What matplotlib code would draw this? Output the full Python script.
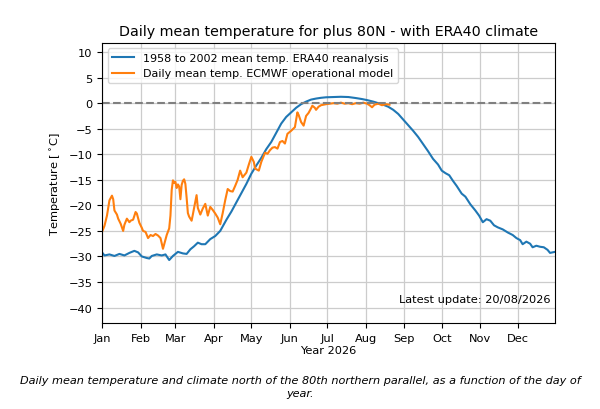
"""
Daily mean temperature north of 80N, with the ERA40 climate curve.
"""

import matplotlib
matplotlib.use("Agg")
import matplotlib.pyplot as plt


# ERA40 climate, 1958-2002 mean (day of year, degC)
CLIMATE_DAYS = [
    0, 2, 6, 10, 14, 18, 22, 26, 29, 32, 36, 38, 40, 44, 48, 51, 54, 57, 61,
    65, 68, 71, 74, 77, 80, 83, 87, 91, 95, 100, 104, 108, 112, 116, 120, 124,
    128, 132, 136, 140, 144, 148, 152, 156, 160, 164, 168, 172, 176, 180, 186,
    192, 198, 204, 209, 213, 218, 222, 226, 230, 234, 238, 242, 246, 250, 254,
    258, 262, 266, 270, 273, 276, 279, 282, 285, 289, 292, 296, 300, 303, 306,
    309, 312, 315, 318, 322, 326, 330, 333, 336, 338, 341, 344, 346, 349, 352,
    355, 358, 360, 364,
]
CLIMATE_TEMP = [
    -29.2, -29.8, -29.6, -29.9, -29.5, -29.8, -29.3, -28.9, -29.2, -30.0,
    -30.3, -30.4, -29.9, -29.6, -29.8, -29.6, -30.7, -29.9, -29.1, -29.4,
    -29.5, -28.6, -28.0, -27.3, -27.6, -27.6, -26.6, -26.0, -25.0, -22.8,
    -21.2, -19.4, -17.6, -15.8, -13.8, -12.2, -10.7, -9.0, -7.6, -5.8,
    -4.0, -2.7, -1.8, -0.9, -0.2, 0.3, 0.7, 0.9, 1.05, 1.15, 1.2, 1.25,
    1.2, 1.0, 0.8, 0.6, 0.3, 0.0, -0.3, -0.7, -1.3, -2.1, -3.2, -4.3, -5.4,
    -6.6, -8.0, -9.4, -10.9, -12.0, -13.2, -13.7, -14.1, -15.2, -16.2,
    -17.7, -18.3, -19.8, -21.0, -22.0, -23.3, -22.7, -23.0, -23.9, -24.3,
    -24.7, -25.3, -25.8, -26.4, -26.8, -27.6, -27.1, -27.5, -28.2, -27.9,
    -28.1, -28.2, -28.7, -29.3, -29.1,
]

# ECMWF operational model, current year up to the latest update
MODEL_DAYS = [
    0, 2, 4, 6, 8, 9, 10, 12, 13, 15, 17, 18, 20, 22, 23, 25, 27, 28, 30, 32,
    33, 35, 37, 39, 41, 43, 45, 47, 49, 50, 52, 54, 55, 56, 57, 58, 59, 60,
    61, 62, 63, 64, 65, 66, 67, 68, 69, 70, 72, 73, 74, 76, 77, 79, 81, 83,
    85, 87, 89, 91, 93, 95, 97, 99, 101, 103, 105, 107, 109, 111, 113, 116,
    118, 120, 122, 123, 126, 128, 131, 133, 135, 137, 139, 141, 143, 145,
    147, 149, 152, 155, 157, 158, 160, 162, 164, 166, 168, 169, 171, 172,
    174, 176, 178, 180, 183, 186, 189, 192, 195, 198, 201, 204, 207, 210,
    213, 215, 217, 219, 222, 225, 228, 231,
]
MODEL_TEMP = [
    -25.2, -24.0, -22.0, -19.0, -18.1, -18.8, -21.0, -21.8, -22.6, -23.6,
    -25.0, -23.8, -22.6, -23.3, -23.0, -22.8, -21.3, -21.6, -23.4, -24.4,
    -25.0, -25.2, -26.4, -25.8, -26.0, -25.6, -25.9, -26.4, -28.5, -27.6,
    -25.8, -24.5, -22.0, -17.0, -15.1, -15.6, -15.4, -16.6, -15.9, -16.3,
    -18.8, -16.0, -15.2, -14.9, -15.8, -18.5, -21.5, -22.2, -23.0, -21.8,
    -20.5, -18.0, -20.5, -21.8, -20.6, -19.7, -22.0, -20.3, -20.9, -21.6,
    -22.4, -23.7, -21.5, -19.0, -16.8, -17.2, -17.3, -16.2, -15.0, -13.2,
    -14.5, -13.6, -12.0, -10.5, -11.5, -12.8, -13.2, -11.5, -9.7, -9.9,
    -9.2, -8.7, -8.6, -8.9, -7.6, -7.4, -7.9, -6.0, -5.4, -4.7, -1.8, -2.3,
    -3.7, -4.4, -2.5, -1.9, -1.0, -0.5, -0.9, -1.3, -0.7, -0.4, -0.3, -0.2,
    -0.1, 0.0, -0.1, 0.1, -0.1, 0.0, -0.2, 0.0, -0.1, 0.1, -0.1, -0.4, -0.8,
    -0.3, -0.1, -0.4, -0.2, -0.3,
]

MONTH_STARTS = [0, 31, 59, 90, 120, 151, 181, 212, 243, 273, 304, 334]
MONTH_LABELS = ["Jan", "Feb", "Mar", "Apr", "May", "Jun",
                "Jul", "Aug", "Sep", "Oct", "Nov", "Dec"]
Y_TICKS = [-40, -35, -30, -25, -20, -15, -10, -5, 0, 5, 10]

TITLE = "Daily mean temperature for plus 80N - with ERA40 climate"
CAPTION = ("Daily mean temperature and climate north of the 80th northern "
           "parallel, as a function of the day of\nyear.")


fig = plt.figure(figsize=(6.0, 4.1), dpi=100)
ax = fig.add_axes([0.17, 0.21, 0.755, 0.683])

ax.plot(CLIMATE_DAYS, CLIMATE_TEMP, color="#1f77b4", linewidth=1.5,
        label="1958 to 2002 mean temp. ERA40 reanalysis")
ax.plot(MODEL_DAYS, MODEL_TEMP, color="#ff7f0e", linewidth=1.5,
        label="Daily mean temp. ECMWF operational model")
ax.axhline(0, color="grey", linestyle="--", linewidth=1.5)

ax.set_xlim(0, 364)
ax.set_ylim(-43, 11.8)
ax.set_xticks(MONTH_STARTS)
ax.set_xticklabels(MONTH_LABELS)
ax.set_yticks(Y_TICKS)
ax.tick_params(labelsize=8.2)
ax.grid(True, color="#cccccc", linewidth=0.9)

ax.set_title(TITLE, fontsize=10.3)
ax.set_xlabel("Year 2026", fontsize=8.2, labelpad=1.5)
ax.set_ylabel(r"Temperature [$^\circ$C]", fontsize=8.2)
ax.legend(loc="upper left", fontsize=8.0, handlelength=2.0)

ax.text(0.99, 0.085, "Latest update: 20/08/2026", transform=ax.transAxes,
        ha="right", va="center", fontsize=8.2)

fig.text(0.5, 0.054, CAPTION, ha="center", va="center", fontsize=8.1,
         style="italic", linespacing=1.4)

fig.savefig("out.png", dpi=100)
